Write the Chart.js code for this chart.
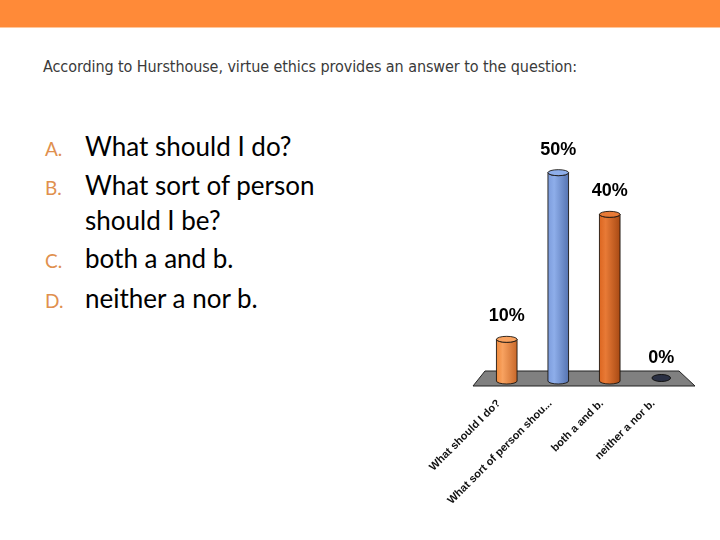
<!DOCTYPE html>
<html lang="en">
<head>
    <meta charset="UTF-8">
    <title>Hursthouse poll</title>
    <script src="https://cdn.jsdelivr.net/npm/chart.js"></script>
    <style>
        body { margin: 0; width: 720px; height: 540px; position: relative; background: #fff; overflow: hidden; }
        .band { position: absolute; left: 0; top: 0; width: 720px; height: 27px; background: #ff8a38; border-bottom: 1px solid #ffc79c; }
        .title { position: absolute; left: 43px; top: 57px; font: 16px "Liberation Sans Narrow", "DejaVu Sans Condensed", sans-serif; color: #3a3a3a; letter-spacing: -0.08px; white-space: nowrap; }
        .item { position: absolute; left: 45px; font: 26px Lato, "Noto Sans", sans-serif; color: #000; }
        .item span { display: inline-block; width: 40px; font-size: 19px; color: #e0904e; }
        .item .cont { padding-left: 40px; }
        #chart { position: absolute; left: 0; top: 0; }
    </style>
</head>
<body>
    <div class="band"></div>
    <div class="title">According to Hursthouse, virtue ethics provides an answer to the question:</div>
    <div class="item" style="top:130px"><span>A.</span>What should I do?</div>
    <div class="item" style="top:169px"><span>B.</span>What sort of person</div>
    <div class="item" style="top:204px"><div class="cont">should I be?</div></div>
    <div class="item" style="top:242px"><span>C.</span>both a and b.</div>
    <div class="item" style="top:282px"><span>D.</span>neither a nor b.</div>

    <canvas id="chart" width="720" height="540"></canvas>

    <script>
        // chart data
        const categories = ['What should I do?', 'What sort of person shou...', 'both a and b.', 'neither a nor b.'];
        const percents = [10, 50, 40, 0];

        // cylinder colours: light, mid, dark
        const barColors = [
            ['#f8a260', '#f08a3c', '#c8682a'],
            ['#8eaeea', '#7c9cdc', '#5674b2'],
            ['#e87a36', '#dc6620', '#a84a14'],
            ['#3a4258', '#2a3044', '#1c2030']
        ];

        function drawCylinder(ctx, x, top, base, w, cols) {
            const rx = w / 2, ry = 3;
            const g = ctx.createLinearGradient(x - rx, 0, x + rx, 0);
            g.addColorStop(0, cols[1]);
            g.addColorStop(0.3, cols[0]);
            g.addColorStop(1, cols[2]);
            ctx.beginPath();
            ctx.moveTo(x - rx, top);
            ctx.lineTo(x - rx, base);
            ctx.ellipse(x, base, rx, ry, 0, Math.PI, 0, true);
            ctx.lineTo(x + rx, top);
            ctx.ellipse(x, top, rx, ry, 0, 0, Math.PI, false);
            ctx.closePath();
            ctx.fillStyle = g;
            ctx.fill();
            ctx.strokeStyle = 'rgba(20,15,10,0.85)';
            ctx.lineWidth = 1;
            ctx.stroke();
            // top cap
            ctx.beginPath();
            ctx.ellipse(x, top, rx, ry, 0, 0, Math.PI * 2);
            ctx.fillStyle = cols[0];
            ctx.fill();
            ctx.stroke();
        }

        const cylinders = {
            id: 'cylinders',
            beforeDatasetsDraw(chart) {
                const ctx = chart.ctx;
                const { left, right } = chart.chartArea;
                const base = chart.scales.y.getPixelForValue(0);
                // floor
                ctx.save();
                ctx.beginPath();
                ctx.moveTo(left + 4, base - 10);
                ctx.lineTo(right - 8, base - 10);
                ctx.lineTo(right + 8, base + 5);
                ctx.lineTo(left - 8, base + 5);
                ctx.closePath();
                ctx.fillStyle = '#808080';
                ctx.fill();
                ctx.strokeStyle = '#222';
                ctx.lineWidth = 1;
                ctx.stroke();
                ctx.restore();
            },
            afterDatasetsDraw(chart) {
                const ctx = chart.ctx;
                const meta = chart.getDatasetMeta(0);
                ctx.save();
                meta.data.forEach((bar, i) => {
                    const cols = barColors[i];
                    if (percents[i] > 0) {
                        drawCylinder(ctx, bar.x, bar.y, bar.base, bar.width, cols);
                    } else {
                        ctx.beginPath();
                        ctx.ellipse(bar.x, bar.base - 3, bar.width / 2 - 1, 3.5, 0, 0, Math.PI * 2);
                        ctx.fillStyle = cols[1];
                        ctx.fill();
                        ctx.strokeStyle = '#111';
                        ctx.stroke();
                    }
                    ctx.fillStyle = '#000';
                    ctx.font = 'bold 18px "Liberation Sans", Arial, sans-serif';
                    ctx.textAlign = 'center';
                    ctx.textBaseline = 'middle';
                    ctx.fillText(percents[i] + '%', bar.x, bar.y - 23);
                });
                ctx.restore();
            }
        };

        new Chart(document.getElementById('chart'), {
            type: 'bar',
            data: {
                labels: categories,
                datasets: [{
                    data: percents,
                    backgroundColor: 'rgba(0,0,0,0)',
                    borderWidth: 0,
                    barPercentage: 0.4,
                    categoryPercentage: 1
                }]
            },
            options: {
                responsive: false,
                animation: false,
                layout: { padding: { left: 481, right: 33, top: 131, bottom: 0 } },
                plugins: { legend: { display: false }, tooltip: { enabled: false } },
                scales: {
                    x: {
                        grid: { display: false },
                        border: { display: false },
                        ticks: {
                            color: '#111',
                            font: { family: '"Liberation Sans", Arial, sans-serif', size: 11, weight: 'bold' },
                            minRotation: 45,
                            maxRotation: 45,
                            autoSkip: false,
                            padding: 8,
                            labelOffset: -8
                        },
                        afterFit: (scale) => { scale.height = 159; }
                    },
                    y: { display: false, min: 0, max: 60 }
                }
            },
            plugins: [cylinders]
        });
    </script>
</body>
</html>
